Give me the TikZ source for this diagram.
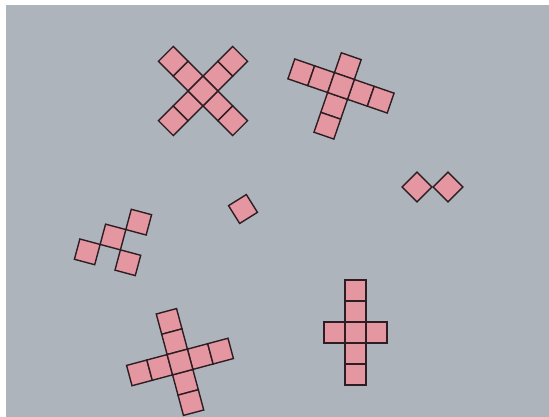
\documentclass[tikz,border=0pt]{standalone}
\definecolor{bggray}{RGB}{174,180,187}
\definecolor{tilepink}{RGB}{228,150,161}
\definecolor{tileedge}{RGB}{45,30,35}

\begin{document}
\begin{tikzpicture}[x=1pt,y=-1pt,
  tile/.style={draw=tileedge,fill=tilepink,line width=1.4pt,minimum size=21pt,
               inner sep=0pt,outer sep=0pt}
]
\useasboundingbox (0,0) rectangle (549,417);
\fill[white] (0,0) rectangle (549,417);
\fill[bggray] (6,5) rectangle (549,417);

% big X
\begin{scope}[shift={(203,91)},rotate=45,transform shape]
  \foreach \i/\j [count=\n] in {-2/0,-1/0,1/0,2/0,0/-2,0/-1,0/1,0/2,0/0}
    \node[tile,name=xa\n] at (\i*21,\j*21) {};
\end{scope}

% tilted cross, top right
\begin{scope}[shift={(341,86)},rotate=-19,transform shape]
  \foreach \i/\j [count=\n] in {-2/0,-1/0,1/0,2/0,0/-1,0/1,0/2,0/0}
    \node[tile,name=cb\n] at (\i*21,\j*21) {};
\end{scope}

% two diamonds
\node[tile,rotate=45] (da) at (417,187) {};
\node[tile,rotate=45] (db) at (448,187) {};

% stair
\begin{scope}[shift={(113,237)},rotate=-15,transform shape]
  \foreach \i/\j [count=\n] in {0/0,1/-1,-1/1,1/1}
    \node[tile,name=st\n] at (\i*21,\j*21) {};
\end{scope}

% single tile
\node[tile,rotate=32] (one) at (243,209) {};

% tilted cross, bottom left
\begin{scope}[shift={(180,362)},rotate=15,transform shape]
  \foreach \i/\j [count=\n] in {-2/0,-1/0,1/0,2/0,0/-2,0/-1,0/1,0/2,0/0}
    \node[tile,name=cc\n] at (\i*21,\j*21) {};
\end{scope}

% upright cross
\begin{scope}[shift={(355.5,332.5)}]
  \foreach \i/\j [count=\n] in {-1/0,1/0,0/-2,0/-1,0/1,0/2,0/0}
    \node[tile,name=cd\n] at (\i*21,\j*21) {};
\end{scope}
\end{tikzpicture}
\end{document}
